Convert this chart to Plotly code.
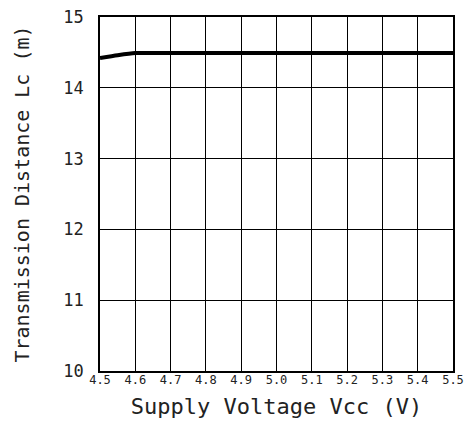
import plotly.graph_objects as go

vcc = [4.5, 4.55, 4.6, 4.7, 4.8, 4.9, 5.0, 5.1, 5.2, 5.3, 5.4, 5.5]
lc = [14.42, 14.46, 14.49, 14.49, 14.49, 14.49, 14.49, 14.49, 14.49, 14.49, 14.49, 14.49]
x_ticks = [4.5, 4.6, 4.7, 4.8, 4.9, 5.0, 5.1, 5.2, 5.3, 5.4, 5.5]
x_labels = ["4.5", "4.6", "4.7", "4.8", "4.9", "5.0", "5.1", "5.2", "5.3", "5.4", "5.5"]
y_ticks = [10, 11, 12, 13, 14, 15]

fig = go.Figure()
fig.add_trace(go.Scatter(x=vcc, y=lc, mode="lines",
                         line=dict(color="black", width=4, shape="spline", smoothing=0.6),
                         showlegend=False))

fig.update_layout(
    width=468, height=415,
    margin=dict(l=92, r=23, t=9, b=52, autoexpand=False),
    paper_bgcolor="white", plot_bgcolor="white",
    font=dict(family="DejaVu Sans Mono", color="#222"),
    xaxis=dict(
        range=[4.5, 5.5], tickvals=x_ticks, ticktext=x_labels,
        showgrid=True, gridcolor="black", gridwidth=1.3,
        showline=True, linecolor="black", linewidth=1.5, mirror=True,
        ticks="", zeroline=False, tickfont=dict(size=12),
        automargin=False, ticklabeloverflow="allow", ticklabelstandoff=-3,
        title=dict(text="Supply Voltage Vcc (V)", font=dict(size=22), standoff=12),
    ),
    yaxis=dict(
        range=[10, 15], tickvals=y_ticks,
        showgrid=True, gridcolor="black", gridwidth=1.3,
        showline=True, linecolor="black", linewidth=1.5, mirror=True,
        ticks="", zeroline=False, tickfont=dict(size=17),
        ticklabelstandoff=11, automargin=False, ticklabeloverflow="allow",
        title=dict(text="Transmission Distance Lc (m)", font=dict(size=20), standoff=28),
    ),
)

fig.write_html("out.html")
